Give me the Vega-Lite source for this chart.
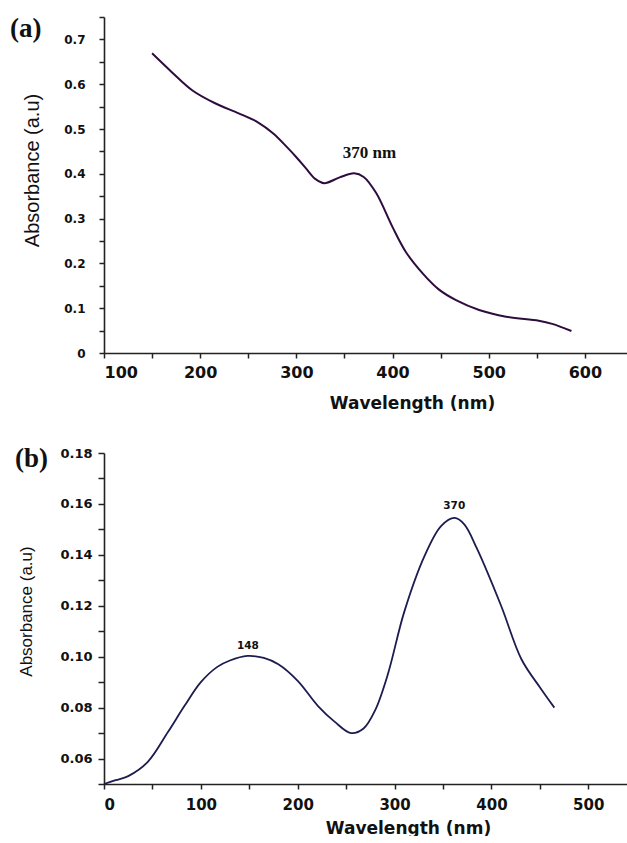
{
  "$schema": "https://vega.github.io/schema/vega-lite/v6.json",
  "autosize": {"type": "pad"},
  "padding": {"left": 10, "top": 11, "right": 0, "bottom": 0},
  "spacing": 34,
  "background": "white",
  "config": {
    "view": {"stroke": null},
    "axis": {"grid": false, "labelOverlap": false, "tickCount": 60, "domainColor": "#222", "domainWidth": 1.6, "tickColor": "#222", "tickWidth": 1.5, "labelColor": "#111", "titleColor": "#111"}
  },
  "datasets": {
    "a": [
      {"wl": 150, "abs": 0.669}, {"wl": 170, "abs": 0.628}, {"wl": 192, "abs": 0.586}, {"wl": 215, "abs": 0.558},
      {"wl": 240, "abs": 0.535}, {"wl": 260, "abs": 0.515}, {"wl": 276, "abs": 0.490}, {"wl": 290, "abs": 0.460},
      {"wl": 300, "abs": 0.437}, {"wl": 310, "abs": 0.412}, {"wl": 320, "abs": 0.388}, {"wl": 329, "abs": 0.379},
      {"wl": 345, "abs": 0.392}, {"wl": 360, "abs": 0.401}, {"wl": 370, "abs": 0.393}, {"wl": 383, "abs": 0.357},
      {"wl": 400, "abs": 0.281}, {"wl": 414, "abs": 0.225}, {"wl": 432, "abs": 0.176}, {"wl": 448, "abs": 0.142},
      {"wl": 466, "abs": 0.118}, {"wl": 490, "abs": 0.096}, {"wl": 518, "abs": 0.081}, {"wl": 552, "abs": 0.072},
      {"wl": 566, "abs": 0.065}, {"wl": 586, "abs": 0.049}
    ],
    "b": [
      {"wl": 0, "abs": 0.050}, {"wl": 12, "abs": 0.0515}, {"wl": 25, "abs": 0.0531}, {"wl": 45, "abs": 0.0586},
      {"wl": 66, "abs": 0.0704}, {"wl": 83, "abs": 0.0806}, {"wl": 100, "abs": 0.090}, {"wl": 117, "abs": 0.096},
      {"wl": 130, "abs": 0.0985}, {"wl": 148, "abs": 0.1003}, {"wl": 165, "abs": 0.0995}, {"wl": 180, "abs": 0.0970},
      {"wl": 200, "abs": 0.0905}, {"wl": 221, "abs": 0.0806}, {"wl": 238, "abs": 0.0745}, {"wl": 255, "abs": 0.0700},
      {"wl": 268, "abs": 0.0718}, {"wl": 280, "abs": 0.0790}, {"wl": 293, "abs": 0.0930}, {"wl": 310, "abs": 0.1176},
      {"wl": 331, "abs": 0.1396}, {"wl": 348, "abs": 0.1513}, {"wl": 362, "abs": 0.1545}, {"wl": 372, "abs": 0.1520},
      {"wl": 385, "abs": 0.1425}, {"wl": 410, "abs": 0.1200}, {"wl": 431, "abs": 0.0990}, {"wl": 450, "abs": 0.0880},
      {"wl": 465, "abs": 0.0800}
    ],
    "alabels": [{"wl": 376, "abs": 0.446, "label": "370 nm"}],
    "blabels": [{"wl": 148.6, "abs": 0.1042, "label": "148"}, {"wl": 361.6, "abs": 0.1592, "label": "370"}]
  },
  "vconcat": [
    {
      "width": 529,
      "height": 336,
      "title": {"text": "(a)", "anchor": "start", "frame": "bounds", "orient": "top", "font": "Liberation Serif", "fontSize": 27, "fontWeight": "bold", "color": "#111", "baseline": "alphabetic", "dx": -12, "dy": 0, "offset": -53},
      "layer": [
        {
          "data": {"name": "a"},
          "mark": {"type": "line", "interpolate": "catmull-rom", "color": "#2e0c3e", "strokeWidth": 2},
          "encoding": {
            "x": {"field": "wl", "type": "quantitative", "scale": {"domain": [100, 650], "nice": false},
              "axis": {"title": "Wavelength (nm)", "values": [100,150,200,250,300,350,400,450,500,550,600,650],
                "labelExpr": "datum.value % 100 == 0 ? datum.label : ''", "labelFont": "DejaVu Sans", "labelFontWeight": "bold", "labelFontSize": 16, "labelPadding": 6, "tickSize": 5,
                "titleFont": "DejaVu Sans", "titleFontWeight": "bold", "titleFontSize": 17, "titleX": 308, "titleY": 55, "titleBaseline": "alphabetic"}},
            "y": {"field": "abs", "type": "quantitative", "scale": {"domain": [0, 0.75], "nice": false},
              "axis": {"title": "Absorbance (a.u)", "values": [0,0.05,0.1,0.15,0.2,0.25,0.3,0.35,0.4,0.45,0.5,0.55,0.6,0.65,0.7,0.75],
                "labelExpr": "round(datum.value*20) % 2 == 0 && datum.value < 0.72 ? (datum.value == 0 ? '0' : format(datum.value, '.1f')) : ''",
                "labelFont": "DejaVu Sans", "labelFontWeight": "bold", "labelFontSize": 12, "labelPadding": 14, "tickSize": 5,
                "titleFont": "Liberation Sans", "titleFontWeight": "normal", "titleFontSize": 20, "titleX": -72, "titleY": 153, "titleBaseline": "middle"}}
          }
        },
        {
          "data": {"name": "alabels"},
          "mark": {"type": "text", "font": "Liberation Serif", "fontWeight": "bold", "fontSize": 17, "color": "#111", "baseline": "middle"},
          "encoding": {
            "x": {"field": "wl", "type": "quantitative"},
            "y": {"field": "abs", "type": "quantitative"},
            "text": {"field": "label"}
          }
        }
      ]
    },
    {
      "width": 523,
      "height": 331,
      "title": {"text": "(b)", "anchor": "start", "frame": "bounds", "orient": "top", "font": "Liberation Serif", "fontSize": 27, "fontWeight": "bold", "color": "#111", "baseline": "alphabetic", "dx": -2, "dy": 0, "offset": -47},
      "layer": [
        {
          "data": {"name": "b"},
          "mark": {"type": "line", "interpolate": "catmull-rom", "color": "#1c1c4e", "strokeWidth": 1.8},
          "encoding": {
            "x": {"field": "wl", "type": "quantitative", "scale": {"domain": [0, 540], "nice": false},
              "axis": {"title": "Wavelength (nm)", "values": [0,50,100,150,200,250,300,350,400,450,500],
                "labelExpr": "datum.value % 100 == 0 ? datum.label : ''", "labelFont": "DejaVu Sans", "labelFontWeight": "bold", "labelFontSize": 15, "labelPadding": 8, "tickSize": 5,
                "titleFont": "DejaVu Sans", "titleFontWeight": "bold", "titleFontSize": 17, "titleX": 304, "titleY": 49, "titleBaseline": "alphabetic"}},
            "y": {"field": "abs", "type": "quantitative", "scale": {"domain": [0.05, 0.18], "nice": false},
              "axis": {"title": "Absorbance (a.u)", "values": [0.05,0.06,0.07,0.08,0.09,0.1,0.11,0.12,0.13,0.14,0.15,0.16,0.17,0.18],
                "labelExpr": "round(datum.value*100) % 2 == 0 ? format(datum.value, '.2f') : ''",
                "labelFont": "DejaVu Sans", "labelFontWeight": "bold", "labelFontSize": 13, "labelPadding": 6, "tickSize": 6,
                "titleFont": "Liberation Sans", "titleFontWeight": "normal", "titleFontSize": 17, "titleX": -78, "titleY": 158, "titleBaseline": "middle"}}
          }
        },
        {
          "data": {"name": "blabels"},
          "mark": {"type": "text", "font": "DejaVu Sans", "fontWeight": "bold", "fontSize": 10.5, "color": "#111", "baseline": "middle"},
          "encoding": {
            "x": {"field": "wl", "type": "quantitative"},
            "y": {"field": "abs", "type": "quantitative"},
            "text": {"field": "label"}
          }
        }
      ]
    }
  ]
}
